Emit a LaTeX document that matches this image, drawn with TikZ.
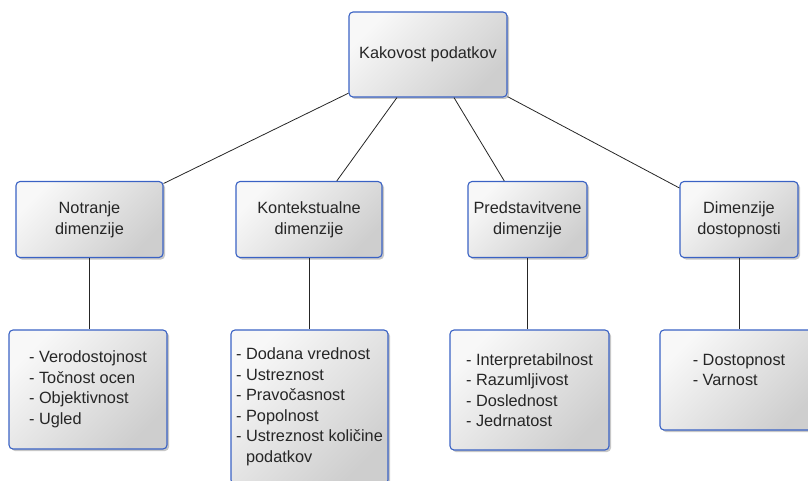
\documentclass[tikz,border=0pt]{standalone}
\usepackage{fontspec}
\setmainfont{Liberation Sans}
\usetikzlibrary{shadows}
\definecolor{boxline}{RGB}{58,98,196}
\definecolor{boxlight}{RGB}{248,248,248}
\definecolor{boxdark}{RGB}{206,206,206}
\tikzset{
  box/.style={draw=boxline, line width=1.1pt, rounded corners=4pt,
    top color=boxlight, bottom color=boxdark, shading angle=45,
    drop shadow={shadow xshift=2pt, shadow yshift=-2pt, opacity=0.22, fill=black},
    inner sep=2pt, text=black!85},
  head/.style={box, align=center, font=\fontsize{16.3}{21}\selectfont},
  listbox/.style={box, align=left, font=\fontsize{16.3}{20.5}\selectfont},
  link/.style={draw=black!85, line width=0.8pt}
}
\begin{document}
\begin{tikzpicture}[x=1pt, y=-1pt]
  \useasboundingbox (0,0) rectangle (808,481);
  \clip (0,0) rectangle (808,481);

  % root
  \node[head, minimum width=158pt, minimum height=85pt] (root) at (428,54.5) {Kakovost podatkov};

  % dimension groups
  \node[head, minimum width=147pt, minimum height=76pt] (notr) at (89.5,219.5) {Notranje\\dimenzije};
  \node[head, minimum width=146pt, minimum height=76pt] (kont) at (309,219.5) {Kontekstualne\\dimenzije};
  \node[head, minimum width=119pt, minimum height=76pt] (pred) at (527.5,219.5) {Predstavitvene\\dimenzije};
  \node[head, minimum width=118pt, minimum height=76pt] (dost) at (739,219.5) {Dimenzije\\dostopnosti};

  % lists of criteria
  \node[listbox, minimum width=158pt, minimum height=119pt] (notrl) at (88,389.5)
    {- Verodostojnost\\- Točnost ocen\\- Objektivnost\\- Ugled};
  \node[listbox, minimum width=157pt, minimum height=154pt] (kontl) at (309.5,407)
    {- Dodana vrednost\\- Ustreznost\\- Pravočasnost\\- Popolnost\\- Ustreznost količine\\\phantom{- }podatkov};
  \node[listbox, minimum width=159pt, minimum height=120pt] (predl) at (529.5,390)
    {- Interpretabilnost\\- Razumljivost\\- Doslednost\\- Jedrnatost};
  \node[listbox, minimum width=158pt, minimum height=100pt] (dostl) at (739,380)
    {- Dostopnost\\- Varnost\\\mbox{}};

  % connectors
  \draw[link] (root) -- (notr);
  \draw[link] (root) -- (kont);
  \draw[link] (root) -- (pred);
  \draw[link] (root) -- (dost);
  \draw[link] (notr.south) -- (notr.south |- notrl.north);
  \draw[link] (kont.south) -- (kont.south |- kontl.north);
  \draw[link] (pred.south) -- (pred.south |- predl.north);
  \draw[link] (dost.south) -- (dost.south |- dostl.north);
\end{tikzpicture}
\end{document}
